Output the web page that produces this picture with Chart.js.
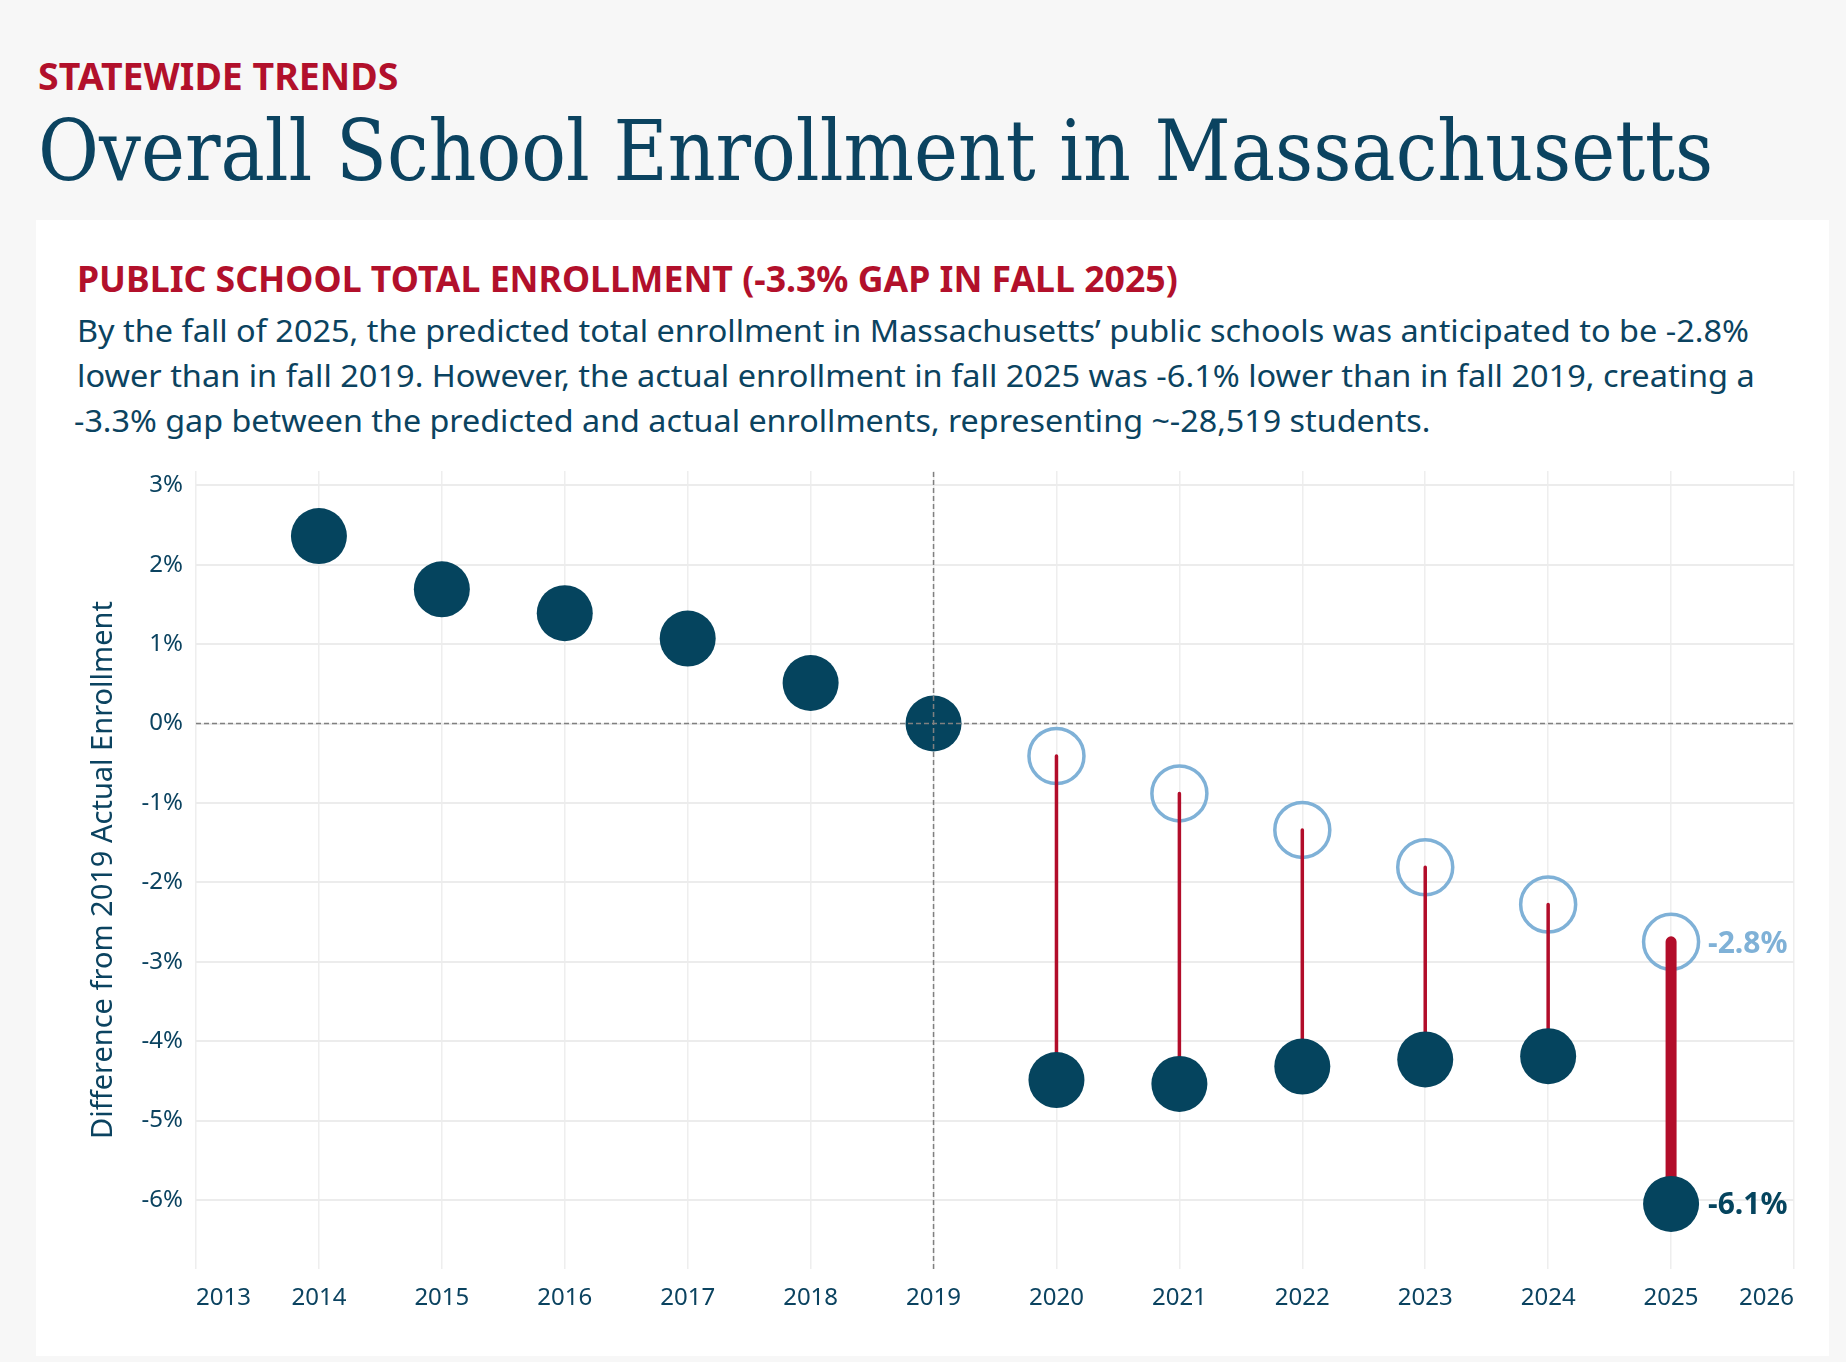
<!DOCTYPE html>
<html>
<head>
<meta charset="utf-8">
<title>Overall School Enrollment in Massachusetts</title>
<script src="https://cdn.jsdelivr.net/npm/chart.js@4.4.1/dist/chart.umd.min.js"></script>
<style>
  html, body { margin: 0; padding: 0; }
  body {
    width: 1846px; height: 1362px; position: relative; overflow: hidden;
    background: #f7f7f7; font-family: "Noto Sans", sans-serif; color: #0b4360;
  }
  .fit { position: absolute; white-space: nowrap; transform-origin: 0 0; line-height: 1; }
  #kicker { left: 38px; top: 56px; font-size: 38px; font-weight: 700; color: #b2102b; }
  #title { left: 38px; top: 108px; font-family: "DejaVu Serif", serif; font-size: 85px; color: #0b4360; }
  #panel { position: absolute; left: 36px; top: 220px; width: 1793px; height: 1136px; background: #fff; }
  #subtitle { left: 77px; top: 261px; font-size: 36px; font-weight: 700; color: #b2102b; }
  .line { left: 77px; font-size: 30px; line-height: 45px; }
  #chartBox { position: absolute; left: 36px; top: 440px; width: 1792px; height: 900px; }
</style>
</head>
<body>
<div id="kicker" class="fit" data-w="360">STATEWIDE TRENDS</div>
<div id="title" class="fit" data-w="1675">Overall School Enrollment in Massachusetts</div>
<div id="panel"></div>
<div id="subtitle" class="fit" data-w="1101">PUBLIC SCHOOL TOTAL ENROLLMENT (-3.3% GAP IN FALL 2025)</div>
<div class="fit line" style="top:308px" data-w="1672">By the fall of 2025, the predicted total enrollment in Massachusetts’ public schools was anticipated to be -2.8%</div>
<div class="fit line" style="top:353px" data-w="1678">lower than in fall 2019. However, the actual enrollment in fall 2025 was -6.1% lower than in fall 2019, creating a</div>
<div class="fit line" style="top:398px; left:74px" data-w="1357">-3.3% gap between the predicted and actual enrollments, representing ~-28,519 students.</div>
<div id="chartBox"><canvas id="chart"></canvas></div>

<script>
// values (difference from 2019 actual enrollment, %)
const years = [2014, 2015, 2016, 2017, 2018, 2019, 2020, 2021, 2022, 2023, 2024, 2025];
const actual = [2.36, 1.69, 1.39, 1.07, 0.51, 0, -4.49, -4.54, -4.32, -4.23, -4.19, -6.05];
const predYears = [2020, 2021, 2022, 2023, 2024, 2025];
const predicted = [-0.41, -0.88, -1.34, -1.81, -2.28, -2.75];
const xTicks = [2013, 2014, 2015, 2016, 2017, 2018, 2019, 2020, 2021, 2022, 2023, 2024, 2025, 2026];
const yTicks = [3, 2, 1, 0, -1, -2, -3, -4, -5, -6];
const endLabels = ['-2.8%', '-6.1%'];
const baseYear = 2019;
const baseValue = 0;
const yMin = -6.87, yMax = 3.18;

const NAVY = '#05445e';
const RED = '#b20d2a';
const LIGHT = '#7fb1d7';
const TEXT = '#0b4360';

// squeeze header texts to the widths seen in the reference
function fitTexts() {
  document.querySelectorAll('.fit').forEach(el => {
    const w = el.offsetWidth;
    el.style.transform = 'scaleX(' + (parseFloat(el.dataset.w) / w) + ')';
  });
}
if (document.fonts && document.fonts.ready) document.fonts.ready.then(fitTexts); else fitTexts();

// one short segment per year between predicted and actual
const gapSets = predYears.map((yr, i) => ({
  type: 'line',
  data: [{ x: yr, y: predicted[i] }, { x: yr, y: actual[years.indexOf(yr)] }],
  borderColor: RED,
  borderWidth: yr === 2025 ? 11 : 3.5,
  borderCapStyle: 'round',
  pointRadius: 0,
  order: 2
}));

const refSets = [
  {
    type: 'line',
    data: [{ x: xTicks[0], y: baseValue }, { x: xTicks[xTicks.length - 1], y: baseValue }],
    borderColor: '#808080', borderWidth: 1.5, borderDash: [5, 3], pointRadius: 0, order: 0
  },
  {
    type: 'line',
    data: [{ x: baseYear, y: yMin }, { x: baseYear, y: yMax }],
    borderColor: '#808080', borderWidth: 1.5, borderDash: [5, 3], pointRadius: 0, order: 0
  }
];

const endLabelPlugin = {
  id: 'endLabels',
  afterDatasetsDraw(chart) {
    const { ctx, scales: { x, y } } = chart;
    const lastYear = predYears[predYears.length - 1];
    const px = x.getPixelForValue(lastYear) + 37;
    ctx.save();
    ctx.font = 'bold 30px "Noto Sans", sans-serif';
    ctx.textAlign = 'left';
    ctx.textBaseline = 'middle';
    ctx.fillStyle = LIGHT;
    ctx.fillText(endLabels[0], px, y.getPixelForValue(predicted[predicted.length - 1]) + 3);
    ctx.fillStyle = NAVY;
    ctx.fillText(endLabels[1], px, y.getPixelForValue(actual[actual.length - 1]) + 2);
    ctx.restore();
  }
};

new Chart(document.getElementById('chart'), {
  type: 'scatter',
  data: {
    datasets: [
      ...refSets,
      {
        label: 'Actual',
        data: years.map((yr, i) => ({ x: yr, y: actual[i] })),
        backgroundColor: NAVY,
        borderWidth: 0,
        pointRadius: 28,
        pointHoverRadius: 28,
        order: 1
      },
      ...gapSets,
      {
        label: 'Predicted',
        data: predYears.map((yr, i) => ({ x: yr, y: predicted[i] })),
        backgroundColor: 'rgba(0,0,0,0)',
        borderColor: LIGHT,
        borderWidth: 3.5,
        pointRadius: 27.5,
        pointHoverRadius: 27.5,
        order: 3
      }
    ]
  },
  options: {
    responsive: true,
    maintainAspectRatio: false,
    animation: false,
    layout: { padding: { top: 24, right: 34, left: 0, bottom: 0 } },
    plugins: {
      legend: { display: false },
      tooltip: { enabled: false }
    },
    scales: {
      x: {
        type: 'linear',
        min: xTicks[0],
        max: xTicks[xTicks.length - 1],
        afterBuildTicks: scale => { scale.ticks = xTicks.map(v => ({ value: v })); },
        afterFit: scale => { scale.height = 71; scale.paddingLeft = 0; scale.paddingRight = 0; },
        border: { display: false },
        grid: { color: '#eeeeee', lineWidth: 1.5, drawTicks: false },
        ticks: {
          align: 'inner',
          padding: 15,
          color: TEXT,
          font: { family: '"Noto Sans", sans-serif', size: 24 },
          callback: v => String(v)
        }
      },
      y: {
        min: yMin,
        max: yMax,
        afterBuildTicks: scale => { scale.ticks = yTicks.map(v => ({ value: v })); },
        afterFit: scale => { scale.width = 160; scale.paddingTop = 0; scale.paddingBottom = 0; },
        border: { display: false },
        grid: { color: '#ececec', lineWidth: 2, drawTicks: false },
        ticks: {
          padding: 13,
          color: TEXT,
          font: { family: '"Noto Sans", sans-serif', size: 24 },
          callback: v => v + '%'
        },
        title: {
          display: true,
          text: 'Difference from 2019 Actual Enrollment',
          color: TEXT,
          font: { family: '"Noto Sans", sans-serif', size: 29 },
          padding: { top: 50, bottom: 0 }
        }
      }
    }
  },
  plugins: [endLabelPlugin]
});
</script>
</body>
</html>
